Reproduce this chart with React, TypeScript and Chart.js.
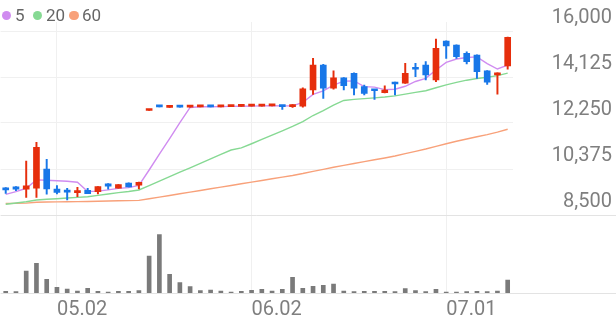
import React, { useEffect, useRef } from "react";
import { Chart, registerables } from "chart.js";

Chart.register(...registerables);

// ---------------- data ----------------
const DATES = [
  "04.24", "04.25", "04.28", "04.29", "04.30", "05.02", "05.07", "05.08", "05.09", "05.12",
  "05.13", "05.14", "05.15", "05.16", "05.19", "05.20", "05.21", "05.22", "05.23", "05.26",
  "05.27", "05.28", "05.29", "05.30", "06.02", "06.04", "06.05", "06.09", "06.10", "06.11",
  "06.12", "06.13", "06.16", "06.17", "06.18", "06.19", "06.20", "06.23", "06.24", "06.25",
  "06.26", "06.27", "06.30", "07.01", "07.02", "07.03", "07.04", "07.07", "07.08", "07.09",
];
const OPEN = [
  9610, 9650, 9550, 9590, 10375, 9560, 9470, 9410, 9505, 9450,
  9775, 9590, 9805, 9720, 12760, 12930, 12890, 12920, 12900, 12910,
  12930, 12910, 12920, 12930, 12940, 12940, 12950, 12960, 12920, 12940,
  13595, 14615, 13665, 14095, 14275, 13730, 13625, 13485, 13910, 13870,
  14500, 14615, 14005, 15590, 15430, 15090, 15020, 14380, 14205, 14575,
];
const HIGH = [
  9620, 9660, 10700, 11460, 10770, 9695, 9590, 9630, 9590, 9655,
  9780, 9740, 9810, 9840, 12780, 12930, 12910, 12920, 12920, 12930,
  12930, 12930, 12940, 12950, 12950, 12960, 12960, 12960, 13000, 13680,
  14890, 14640, 14380, 14100, 14300, 13800, 13625, 13770, 13920, 14685,
  14685, 14750, 15675, 15600, 15440, 15155, 15030, 14390, 14300, 15750,
];
const LOW = [
  9380, 9490, 9220, 9220, 9345, 9355, 9110, 9250, 9370, 9355,
  9550, 9590, 9640, 9560, 12760, 12910, 12890, 12900, 12900, 12910,
  12910, 12910, 12920, 12930, 12940, 12940, 12950, 12800, 12880, 12900,
  13420, 13255, 13625, 13595, 13390, 13390, 13215, 13480, 13390, 13860,
  14135, 14005, 13935, 14885, 14885, 14655, 14070, 13825, 13430, 14440,
];
const CLOSE = [
  9520, 9550, 9690, 11260, 9560, 9425, 9430, 9490, 9370, 9655,
  9680, 9735, 9640, 9835, 12780, 12910, 12910, 12900, 12920, 12930,
  12910, 12930, 12940, 12950, 12950, 12960, 12960, 12920, 12950, 13640,
  14615, 13665, 14095, 13770, 13665, 13460, 13565, 13595, 13840, 14275,
  14440, 14205, 15295, 15390, 14955, 14750, 14340, 13910, 14300, 15745,
];
const VOLUME = [
  50000, 40000, 660000, 890000, 410000, 170000, 120000, 60000, 140000, 50000,
  30000, 50000, 50000, 70000, 1110000, 1750000, 560000, 310000, 190000, 70000,
  90000, 60000, 30000, 50000, 80000, 110000, 60000, 110000, 470000, 140000,
  200000, 230000, 270000, 60000, 40000, 50000, 50000, 50000, 40000, 130000,
  70000, 40000, 110000, 30000, 30000, 40000, 50000, 40000, 60000, 390000,
];
const MA5 = [
  9340, 9450, 9590, 9930, 9916, 9897, 9873, 9833, 9455, 9474,
  9525, 9586, 9616, 9709, 10334, 10980, 11615, 12267, 12884, 12914,
  12914, 12918, 12926, 12932, 12936, 12946, 12952, 12948, 12948, 13086,
  13417, 13558, 13793, 13957, 13962, 13731, 13711, 13611, 13625, 13747,
  13943, 14071, 14411, 14721, 14857, 14919, 14946, 14669, 14451, 14609,
];
const MA20 = [
  8940, 8990, 9040, 9110, 9140, 9165, 9195, 9220, 9245, 9300,
  9355, 9410, 9460, 9520, 9700, 9880, 10060, 10245, 10425, 10605,
  10790, 10970, 11150, 11235, 11405, 11580, 11760, 11930, 12110, 12310,
  12555, 12750, 12975, 13170, 13215, 13245, 13275, 13310, 13355, 13425,
  13500, 13565, 13685, 13805, 13905, 13995, 14065, 14115, 14180, 14285,
];
const MA60 = [
  8970, 8975, 8985, 9020, 9030, 9035, 9040, 9045, 9050, 9060,
  9070, 9080, 9085, 9095, 9160, 9228, 9296, 9364, 9432, 9500,
  9568, 9636, 9704, 9772, 9840, 9908, 9976, 10044, 10110, 10190,
  10280, 10360, 10445, 10525, 10600, 10675, 10750, 10825, 10905, 11000,
  11095, 11190, 11300, 11405, 11505, 11600, 11690, 11775, 11880, 11995,
];
const PRICE_TICKS = [8500, 10375, 12250, 14125, 16000];
const DATE_TICKS = ["05.02", "06.02", "07.01"];
const MA_NAMES = ["5", "20", "60"];
const VOLUME_AXIS_MAX = 8130000;

// ---------------- layout & style ----------------
const W = 616;
const H = 321;
const AREA_LEFT = 0.6;
const AREA_RIGHT = 512.8;
const AREA_TOP = 22;
const AREA_BOTTOM = 293;
const PRICE_TOP_PX = 31;
const PRICE_BOTTOM_PX = 215;
const LABEL_RIGHT = 612;

const UP = "#e62e0c";
const DOWN = "#1877e8";
const MA_COLORS = ["#d08cf0", "#86d993", "#f8a17a"];
const GRID = "#f0f0f0";
const SEP = "#e3e3e3";
const AXIS_TEXT = "#7f7f7f";
const FONT = "Roboto, 'Noto Sans', sans-serif";

const LEGEND_POS = [
  { dot: 6.3, text: 15 },
  { dot: 37.3, text: 46 },
  { dot: 74, text: 82 },
];

export default function App() {
  const ref = useRef<HTMLCanvasElement>(null);

  useEffect(() => {
    const canvas = ref.current;
    if (!canvas) return;
    const lo = PRICE_TICKS[0];
    const hi = PRICE_TICKS[PRICE_TICKS.length - 1];
    const perPx = (hi - lo) / (PRICE_BOTTOM_PX - PRICE_TOP_PX);
    const priceMax = hi + (PRICE_TOP_PX - AREA_TOP) * perPx;
    const priceMin = lo - (AREA_BOTTOM - PRICE_BOTTOM_PX) * perPx;
    const colors = CLOSE.map((c, i) => (c >= OPEN[i] ? UP : DOWN));
    const isSep = (v: number) => v === lo || !PRICE_TICKS.includes(v);

    const maDataset = (data: number[], i: number) => ({
      type: "line" as const,
      label: MA_NAMES[i],
      data,
      borderColor: MA_COLORS[i],
      borderWidth: 1.4,
      pointRadius: 0,
      tension: 0,
      yAxisID: "y",
      order: 2 + i,
    });

    const chart = new Chart(canvas, {
      type: "bar",
      data: {
        labels: DATES,
        datasets: [
          {
            type: "bar",
            label: "body",
            data: OPEN.map((o, i) => [o, CLOSE[i]]),
            backgroundColor: colors,
            barThickness: 6,
            minBarLength: 2,
            grouped: false,
            yAxisID: "y",
            order: 0,
          },
          {
            type: "bar",
            label: "wick",
            data: LOW.map((l, i) => [l, HIGH[i]]),
            backgroundColor: colors,
            barThickness: 1.3,
            grouped: false,
            yAxisID: "y",
            order: 1,
          },
          maDataset(MA5, 0),
          maDataset(MA20, 1),
          maDataset(MA60, 2),
          {
            type: "bar",
            label: "volume",
            data: VOLUME,
            backgroundColor: "#7a7a7a",
            barThickness: 4,
            grouped: false,
            yAxisID: "yv",
            order: 10,
          },
        ] as any,
      },
      options: {
        responsive: false,
        animation: false,
        events: [],
        layout: { padding: { left: AREA_LEFT, top: AREA_TOP, right: 0, bottom: 0 } },
        plugins: { legend: { display: false }, tooltip: { enabled: false } },
        scales: {
          x: {
            type: "category",
            offset: true,
            border: { display: false },
            grid: { offset: false, color: GRID, drawTicks: false, lineWidth: 1 },
            ticks: {
              autoSkip: false,
              maxRotation: 0,
              align: "start",
              padding: 5,
              color: AXIS_TEXT,
              font: { family: FONT, size: 20 },
            },
            afterBuildTicks: (s: any) => {
              s.ticks = s.ticks.filter((t: any) => DATE_TICKS.includes(DATES[t.value]));
            },
            afterFit: (s: any) => {
              s.height = H - AREA_BOTTOM;
              s.paddingLeft = 0;
              s.paddingRight = 0;
            },
          },
          y: {
            type: "linear",
            position: "right",
            min: priceMin,
            max: priceMax,
            border: { display: false },
            grid: {
              color: (c: any) => (isSep(c.tick?.value) ? SEP : GRID),
              drawTicks: true,
              tickLength: W - AREA_RIGHT,
              tickColor: (c: any) => (isSep(c.tick?.value) ? SEP : "rgba(0,0,0,0)"),
              lineWidth: 1,
            },
            ticks: {
              autoSkip: false,
              mirror: true,
              crossAlign: "near",
              padding: LABEL_RIGHT - AREA_RIGHT,
              labelOffset: -13,
              color: AXIS_TEXT,
              font: { family: FONT, size: 20 },
              callback: (v: any) => (PRICE_TICKS.includes(v) ? Number(v).toLocaleString("en-US") : ""),
            },
            afterBuildTicks: (s: any) => {
              s.ticks = [priceMin, ...PRICE_TICKS].map((value) => ({ value }));
            },
            afterFit: (s: any) => {
              s.width = W - AREA_RIGHT;
              s.paddingTop = 0;
              s.paddingBottom = 0;
            },
          },
          yv: {
            type: "linear",
            display: false,
            min: 0,
            max: VOLUME_AXIS_MAX,
          },
        },
      } as any,
    });
    return () => chart.destroy();
  }, []);

  return (
    <div style={{ position: "absolute", left: 0, top: 0, width: W, height: H, background: "#fff" }}>
      <canvas ref={ref} width={W} height={H} style={{ display: "block", width: W, height: H }} />
      {MA_NAMES.map((name, i) => (
        <React.Fragment key={name}>
          <div
            style={{
              position: "absolute",
              left: LEGEND_POS[i].dot - 4.7,
              top: 15.4 - 4.7,
              width: 9.4,
              height: 9.4,
              borderRadius: "50%",
              background: MA_COLORS[i],
            }}
          />
          <span
            style={{
              position: "absolute",
              left: LEGEND_POS[i].text,
              top: 7,
              fontFamily: FONT,
              fontSize: 17,
              lineHeight: "17px",
              color: "#666",
              whiteSpace: "nowrap",
            }}
          >
            {name}
          </span>
        </React.Fragment>
      ))}
    </div>
  );
}
